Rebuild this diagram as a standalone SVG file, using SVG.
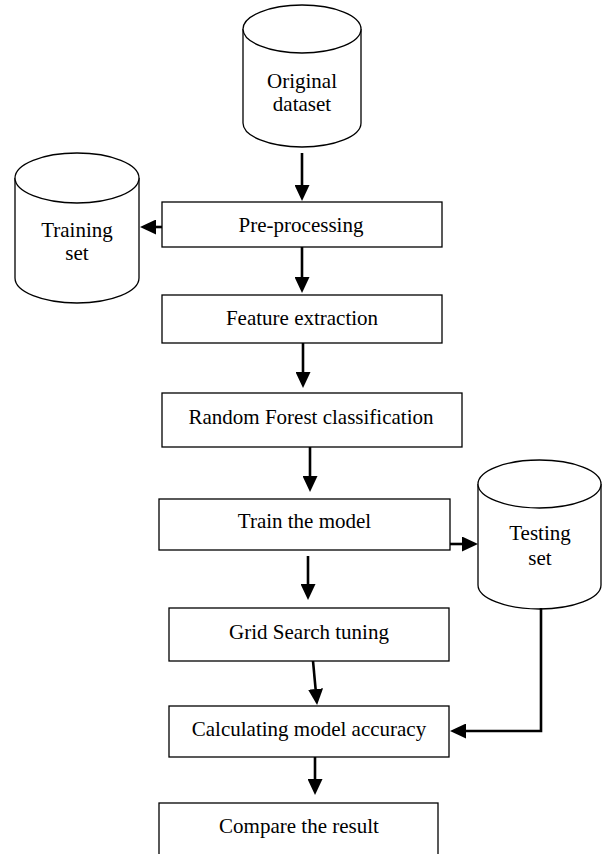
<svg xmlns="http://www.w3.org/2000/svg" width="603" height="854" viewBox="0 0 603 854">
<style>
.box{fill:#fff;stroke:#000;stroke-width:1.3}
.cyl{fill:#fff;stroke:#000;stroke-width:1.3}
.t{font-family:"Liberation Serif","Times New Roman",serif;font-size:21px;fill:#000;text-anchor:middle}
.c{fill:none;stroke:#000;stroke-width:2.6}
</style>
<defs>
<marker id="ah" viewBox="0 0 16 15" refX="0" refY="7.5" markerWidth="16" markerHeight="15" markerUnits="userSpaceOnUse" orient="auto">
<path d="M0,0 L16,7.5 L0,15 z" fill="#000"/>
</marker>
</defs>
<rect width="603" height="854" fill="#fff"/>
<g id="original">
<path class="cyl" d="M243,29 L243,123 A59,24 0 0 0 361,123 L361,29"/>
<ellipse class="cyl" cx="302" cy="29" rx="59" ry="24"/>
<text class="t" x="302" y="88">Original</text>
<text class="t" x="302" y="111">dataset</text>
</g>
<g id="training">
<path class="cyl" d="M15,178 L15,278 A62,25 0 0 0 139,278 L139,178"/>
<ellipse class="cyl" cx="77" cy="178" rx="62" ry="25"/>
<text class="t" x="77" y="237">Training</text>
<text class="t" x="77" y="260">set</text>
</g>
<g id="testing">
<path class="cyl" d="M478,484 L478,585 A61.5,24 0 0 0 601,585 L601,484"/>
<ellipse class="cyl" cx="539.5" cy="484" rx="61.5" ry="24"/>
<text class="t" x="540" y="540">Testing</text>
<text class="t" x="540" y="565">set</text>
</g>
<g id="preprocessing">
<rect class="box" x="162" y="202" width="280" height="45"/>
<text class="t" x="301" y="232">Pre-processing</text>
</g>
<g id="feature">
<rect class="box" x="162" y="295" width="280" height="48"/>
<text class="t" x="302" y="325">Feature extraction</text>
</g>
<g id="rf">
<rect class="box" x="162" y="393" width="300" height="54"/>
<text class="t" x="311" y="424">Random Forest classification</text>
</g>
<g id="train">
<rect class="box" x="159" y="499" width="291" height="51"/>
<text class="t" x="304.5" y="528">Train the model</text>
</g>
<g id="grid">
<rect class="box" x="169" y="608" width="280" height="53"/>
<text class="t" x="309" y="639">Grid Search tuning</text>
</g>
<g id="calc">
<rect class="box" x="169" y="706" width="280" height="51"/>
<text class="t" x="309" y="736">Calculating model accuracy</text>
</g>
<g id="compare">
<rect class="box" x="159" y="803" width="279" height="60"/>
<text class="t" x="299" y="833">Compare the result</text>
</g>
<g id="connectors">
<line class="c" x1="302" y1="153" x2="302" y2="185" marker-end="url(#ah)"/>
<line class="c" x1="162" y1="227" x2="156" y2="227" marker-end="url(#ah)"/>
<line class="c" x1="302" y1="247" x2="302" y2="277" marker-end="url(#ah)"/>
<line class="c" x1="303" y1="343" x2="303" y2="372" marker-end="url(#ah)"/>
<line class="c" x1="310" y1="447" x2="310" y2="476" marker-end="url(#ah)"/>
<line class="c" x1="450" y1="544" x2="462" y2="544" marker-end="url(#ah)"/>
<line class="c" x1="308" y1="556" x2="308" y2="584" marker-end="url(#ah)"/>
<line class="c" x1="313" y1="661" x2="315.6" y2="689" marker-end="url(#ah)"/>
<polyline class="c" points="541,608 541,731 466,731" marker-end="url(#ah)"/>
<line class="c" x1="315" y1="757" x2="315" y2="779" marker-end="url(#ah)"/>
</g>
</svg>
